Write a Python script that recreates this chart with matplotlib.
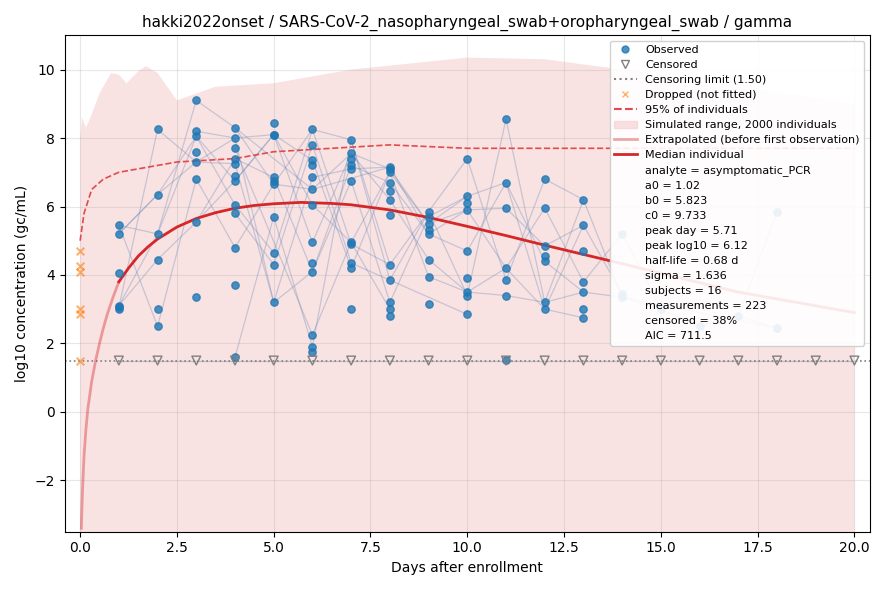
import numpy as np
import matplotlib.pyplot as plt
from matplotlib.lines import Line2D
from matplotlib.patches import Patch

# observed values per day
OBS = {
    1: [5.45, 5.2, 4.05, 3.1, 3.05, 3.0],
    2: [8.25, 6.35, 5.2, 4.45, 3.0, 2.5],
    3: [9.1, 8.2, 8.05, 7.6, 7.3, 6.8, 5.55, 3.35],
    4: [8.3, 8.0, 7.7, 7.4, 7.25, 6.9, 6.75, 6.05, 5.8, 4.8, 3.7, 1.6],
    5: [8.45, 8.1, 8.1, 6.85, 6.75, 6.65, 5.7, 4.65, 4.3, 3.2],
    6: [8.25, 7.8, 7.35, 7.2, 6.85, 6.5, 6.05, 4.95, 4.35, 4.1, 2.25, 1.9, 1.75],
    7: [7.95, 7.55, 7.4, 7.2, 7.1, 6.75, 4.95, 4.9, 4.35, 4.2, 3.0],
    8: [7.15, 7.1, 7.0, 6.7, 6.45, 6.2, 5.75, 4.3, 3.85, 3.2, 3.0, 2.8],
    9: [5.85, 5.7, 5.5, 5.3, 5.2, 4.45, 3.95, 3.15],
    10: [7.4, 6.3, 6.1, 5.9, 4.7, 3.9, 3.5, 3.4, 2.85],
    11: [8.55, 6.7, 5.95, 4.2, 3.85, 3.4, 1.52],
    12: [6.8, 5.95, 4.85, 4.55, 4.4, 3.2, 3.0],
    13: [6.2, 5.45, 4.7, 3.8, 3.5, 3.0, 2.75],
    14: [5.2, 3.45, 3.35],
    15: [3.0],
    16: [2.5],
    17: [2.8],
    18: [5.85, 2.45],
}
CENS_DAYS = [1, 2, 3, 4, 5, 6, 7, 8, 9, 10, 11, 12, 13, 14, 15, 16, 17, 18, 19, 20]
CENS_LIMIT = 1.5
DROP_DAYS = [0, 0, 0, 0, 0, 0]
DROP_VALS = [4.7, 4.25, 4.1, 3.0, 2.85, 1.5]

ENV_X = [0.0, 0.05, 0.15, 0.3, 0.5, 0.8, 1.0, 1.2, 1.5, 1.7, 2.0, 2.5, 3.0, 3.5, 5.0, 7.0, 10.0, 12.0, 14.0, 17.0, 20.0]
ENV_HI = [8.0, 8.6, 8.3, 8.7, 9.3, 9.9, 9.85, 9.6, 9.95, 10.1, 9.9, 9.1, 9.3, 9.5, 9.6, 10.0, 10.35, 10.3, 10.0, 9.5, 9.0]
P95_X = [0.0, 0.1, 0.3, 0.6, 1.0, 1.5, 2.5, 4.0, 5.0, 6.5, 8.0, 10.0, 13.0, 16.0, 20.0]
P95_Y = [5.0, 5.8, 6.5, 6.8, 7.0, 7.1, 7.3, 7.4, 7.6, 7.7, 7.8, 7.7, 7.7, 7.7, 7.7]
MED_X_PRE = [0.03, 0.06, 0.1, 0.15, 0.2, 0.3, 0.4, 0.5, 0.6, 0.7, 0.85, 1.0]
MED_Y_PRE = [-3.4, -2.3, -1.3, -0.5, 0.1, 0.9, 1.5, 2.0, 2.45, 2.85, 3.35, 3.8]
MED_X = [1.0, 1.25, 1.5, 1.75, 2.0, 2.5, 3.0, 3.5, 4.0, 4.5, 5.0, 5.7, 6.5, 7.0, 8.0, 9.0, 10.0, 11.0, 12.0, 13.0, 14.0, 15.0, 17.0, 20.0]
MED_Y = [3.8, 4.2, 4.55, 4.82, 5.05, 5.4, 5.65, 5.82, 5.95, 6.03, 6.08, 6.12, 6.09, 6.05, 5.9, 5.68, 5.42, 5.15, 4.87, 4.6, 4.33, 4.05, 3.5, 2.9]

STATS = ["analyte = asymptomatic_PCR", "a0 = 1.02", "b0 = 5.823", "c0 = 9.733",
         "peak day = 5.71", "peak log10 = 6.12", "half-life = 0.68 d", "sigma = 1.636",
         "subjects = 16", "measurements = 223", "censored = 38%", "AIC = 711.5"]

fig, ax = plt.subplots(figsize=(8.87, 5.9), dpi=100)
ax.fill_between(ENV_X, -10, ENV_HI, color="#f5c6c6", alpha=0.5, lw=0)

# subject tracks: connect points of consecutive days
days = sorted(OBS)
order = [3, 0, 5, 1, 4, 2, 7, 6, 9, 8, 11, 10, 12]
for k in range(13):
    xs, ys = [], []
    for d in days:
        vals = OBS[d]
        idx = order[k] % len(vals)
        if (k + d) % 3 == 0 and len(vals) > 2:
            idx = (idx + d) % len(vals)
        if k < len(vals) + 1:
            xs.append(d)
            ys.append(vals[idx])
    ax.plot(xs, ys, color="#6a8ab8", lw=0.9, alpha=0.35, zorder=2)

ox = [d for d in days for _ in OBS[d]]
oy = [v for d in days for v in OBS[d]]
ax.scatter(ox, oy, s=28, color="#1f77b4", alpha=0.8, zorder=3)
ax.scatter(CENS_DAYS, [CENS_LIMIT] * len(CENS_DAYS), marker="v", s=40,
           facecolors="none", edgecolors="gray", zorder=3)
ax.plot(CENS_DAYS, [CENS_LIMIT] * len(CENS_DAYS), color="#6a8ab8", lw=0.9, alpha=0.4)
ax.axhline(CENS_LIMIT, color="gray", ls=":", lw=1.2)
ax.scatter(DROP_DAYS, DROP_VALS, marker="x", s=30, color="#ff7f0e", alpha=0.6, zorder=3)
ax.plot(P95_X, P95_Y, color="#e34a4a", ls="--", lw=1.2)
ax.plot(MED_X_PRE, MED_Y_PRE, color="#d62728", lw=2, alpha=0.4)
ax.plot(MED_X, MED_Y, color="#d62728", lw=2)

ax.set_xlim(-0.4, 20.4)
ax.set_ylim(-3.5, 11)
ax.grid(True, alpha=0.3)
ax.set_xlabel("Days after enrollment")
ax.set_ylabel("log10 concentration (gc/mL)")
ax.set_title("hakki2022onset / SARS-CoV-2_nasopharyngeal_swab+oropharyngeal_swab / gamma",
             fontsize=11)

handles = [
    Line2D([], [], marker="o", ls="", color="#1f77b4", alpha=0.8, markersize=5, label="Observed"),
    Line2D([], [], marker="v", ls="", mfc="none", mec="gray", markersize=6, label="Censored"),
    Line2D([], [], color="gray", ls=":", label="Censoring limit (1.50)"),
    Line2D([], [], marker="x", ls="", color="#ff7f0e", alpha=0.6, markersize=5, label="Dropped (not fitted)"),
    Line2D([], [], color="#e34a4a", ls="--", label="95% of individuals"),
    Patch(color="#f5c6c6", alpha=0.5, label="Simulated range, 2000 individuals"),
    Line2D([], [], color="#d62728", lw=2, alpha=0.4, label="Extrapolated (before first observation)"),
    Line2D([], [], color="#d62728", lw=2, label="Median individual"),
] + [Line2D([], [], ls="", label=s) for s in STATS]
ax.legend(handles=handles, loc="upper right", fontsize=8, framealpha=0.9,
          handlelength=2, labelspacing=0.45)
fig.tight_layout()
fig.savefig("out.png")
